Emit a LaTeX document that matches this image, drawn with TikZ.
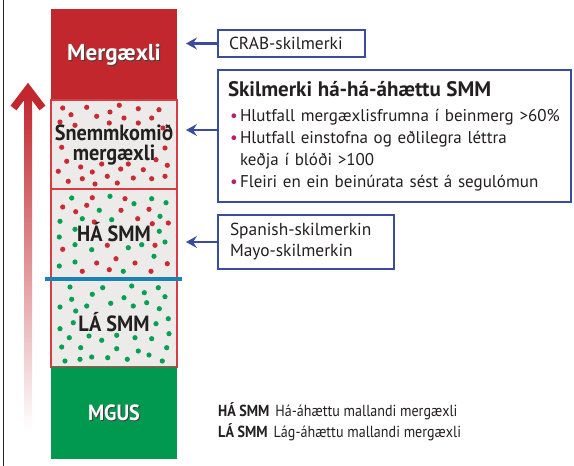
\documentclass[tikz,border=0pt]{standalone}
\usepackage{fontspec}
\setmainfont{PT Sans}
\newfontfamily\condfont[FakeStretch=0.92]{PT Sans}
\newfontfamily\legendfont[FakeStretch=0.88]{PT Sans}
\usetikzlibrary{positioning,arrows.meta}

\definecolor{mergred}{HTML}{C1272D}
\definecolor{dotred}{HTML}{CC2A31}
\definecolor{mgusgreen}{HTML}{00994F}
\definecolor{dotgreen}{HTML}{00A151}
\definecolor{panelgray}{HTML}{ECEBEA}
\definecolor{panelred}{HTML}{D63C43}
\definecolor{splitblue}{HTML}{1A82B4}
\definecolor{boxblue}{HTML}{3B4BA0}
\definecolor{bulletpink}{HTML}{B4226E}
\definecolor{inkdark}{HTML}{231F20}
\definecolor{arrowmid}{HTML}{D9785C}

\newcommand{\critdot}{\makebox[12pt][c]{\textcolor{bulletpink}{\textbullet}}}

\tikzset{
  block/.style={rectangle, minimum width=126pt, inner sep=0pt, outer sep=0pt},
  panel/.style={block, fill=panelgray, draw=panelred, line width=1.3pt},
  blocklabel/.style={font=\condfont\bfseries\fontsize{22}{20}\selectfont, text=inkdark, align=center, inner sep=0pt},
  infobox/.style={rectangle, draw=boxblue, line width=1.7pt, fill=white, align=left, text=inkdark,
    font=\fontsize{17}{22}\selectfont, inner ysep=0pt, outer sep=0pt},
  pointer/.style={draw=boxblue, line width=2.2pt, -{Stealth[length=11pt, width=12pt, inset=4pt]}},
  legendtext/.style={font=\legendfont\fontsize{16}{18}\selectfont, text=inkdark, inner sep=0pt}
}

\begin{document}
\begin{tikzpicture}[x=1pt, y=-1pt]
  \useasboundingbox (0,0) rectangle (574,466);

  % frame line on the left
  \draw[black!85, line width=1.4pt] (3.5,0) -- (3.5,466);

  % rising arrow
  \shade[top color=mergred, middle color=arrowmid, bottom color=white] (24,95) rectangle (32,430);
  \draw[mergred, line width=7.5pt, miter limit=10] (13.5,108) -- (28,89) -- (42.5,108);

  % the column
  \node[block, fill=mergred, minimum height=91pt, anchor=north west] (myeloma) at (51,9) {};
  \node[panel, minimum height=89pt, below=0pt of myeloma] (early) {};
  \node[panel, minimum height=90pt, below=0pt of early] (hrsmm) {};
  \node[panel, minimum height=88pt, below=0pt of hrsmm] (lrsmm) {};
  \node[block, fill=mgusgreen, minimum height=92pt, below=0pt of lrsmm] (mgus) {};

  % cells
  \foreach \p in {(62.7,108),(71,114.7),(86.7,107.3),(96.7,116.3),(110,112),(119.3,105.3),
      (124,118),(138.3,108.7),(151.7,118),(159,109.7),(60,122),(75,125.3),(109.3,123),
      (138.3,123),(163,128),(61.7,147.3),(165,148),(66.7,161.3),(80.7,167),(101.7,164),
      (128.3,164),(156,159.7),(167.3,165.3),(58.3,171.3),(92.3,172),(120.7,169),(143.3,169.7),
      (68.3,181.3),(82.3,178.7),(95,184),(107.3,176.3),(117.3,183),(133.3,178),(151.7,178.7),
      (165,176.3),
      (92.3,197.7),(125,198.7),(62.7,207),(75.7,211.7),(86.7,205.3),(121,210.3),(149,209.3),
      (94.3,222),(137.7,218.7),(152.3,223.7),(168.3,223),(62.7,249.3),(107.3,245.3),
      (155,245.3),(116,258.7),(96.7,263),(135,263),(167.3,263.7),(82.3,271.3),(109.3,269.7),
      (151,271.3)}
    \fill[dotred] \p circle (2.6pt);
  \foreach \p in {(71.7,198),(110,196.3),(134,203.7),(151.7,198.7),(166,202.7),(99.3,210.3),
      (160,216.3),(60,221.3),(82.3,218.7),(111.7,219.7),(75,229.3),(159.3,231.3),(59.3,237),
      (165,242),(75,244.7),(91.7,249.7),(128.3,247.7),(141.7,244.7),(154,256.3),(59.3,266),
      (75,262),(123.3,271.3),
      (70,287),(92.3,294.3),(102.7,287.7),(131.7,286),(144.3,292.7),(158.3,287.7),(165,296.7),
      (71.7,299.3),(110.7,303.3),(124,297.7),(133.3,306),(146.7,302.7),(159.3,308.7),(60,307),
      (75.7,311),(86.7,306),(73.3,322.7),(168.3,318.7),(156,323.7),(60,328.7),(69.3,337.7),
      (89,336),(101.7,340.3),(116.7,335.3),(135,337.7),(151.7,338.7),(169,333.7),(61.7,347),
      (80.7,347.7),(116.7,348.7),(138.3,351),(149,355),(166.7,347.7),(65,361),(80,359.3),
      (91.7,357),(107.7,357.7),(127.3,359.3),(162.3,361)}
    \fill[dotgreen] \p circle (2.6pt);

  % border between high and low risk
  \draw[splitblue, line width=3.2pt] ([xshift=-6pt]hrsmm.south west) -- ([xshift=5pt]hrsmm.south east);

  % column labels
  \node[blocklabel, text=black!75, font=\bfseries\fontsize{23}{20}\selectfont] (myelomashadow)
    at ([shift={(1,1)}]myeloma.center) {Mergæxli};
  \node[blocklabel, text=white, font=\bfseries\fontsize{23}{20}\selectfont] (myelomalabel)
    at (myeloma.center) {Mergæxli};
  \node[blocklabel] (earlylabel) at (early.center) {Snemmkomið\\mergæxli};
  \node[blocklabel] (hrsmmlabel) at ([yshift=2pt]hrsmm.center) {HÁ SMM};
  \node[blocklabel] (lrsmmlabel) at ([yshift=1pt]lrsmm.center) {LÁ SMM};
  \node[blocklabel, text=black!75] (mgusshadow) at ([shift={(1,1)}]mgus.center) {MGUS};
  \node[blocklabel, text=white] (guslabel) at (mgus.center) {MGUS};

  % criteria boxes
  \coordinate (tips) at (186,0);
  \node[infobox, anchor=north west, inner xsep=11pt, text width=125pt, minimum height=27pt,
    font=\fontsize{17.4}{22}\selectfont] (crab) at (218,30)
    {CRAB-skilmerki};
  \node[infobox, anchor=north west, inner xsep=10pt, text width=333pt, minimum height=132pt] (highrisk) at (218,70)
    {{\bfseries\fontsize{21}{22}\selectfont Skilmerki há-há-áhættu SMM}\\[3pt]
     \critdot Hlutfall mergæxlisfrumna í beinmerg >60\%\\
     \critdot Hlutfall einstofna og eðlilegra léttra\\
     \hspace*{12pt}keðja í blóði >100\\
     \critdot Fleiri en ein beinúrata sést á segulómun};
  \node[infobox, anchor=north west, inner xsep=12pt, text width=152pt, minimum height=54pt,
    font=\fontsize{17.4}{21}\selectfont] (scores) at (218,215)
    {Spanish-skilmerkin\\Mayo-skilmerkin};

  \draw[pointer] (crab.west) -- (crab.west -| tips);
  \draw[pointer] ([yshift=6pt]highrisk.west) -- ([yshift=6pt]highrisk.west -| tips);
  \draw[pointer] (scores.west) -- (scores.west -| tips);

  % legend
  \node[legendtext, anchor=west] (legendhigh) at (218,411) {\textbf{HÁ SMM}\hspace{6pt}Há-áhættu mallandi mergæxli};
  \node[legendtext, anchor=west] (legendlow) at (218,432) {\textbf{LÁ SMM}\hspace{6pt}Lág-áhættu mallandi mergæxli};
\end{tikzpicture}
\end{document}
